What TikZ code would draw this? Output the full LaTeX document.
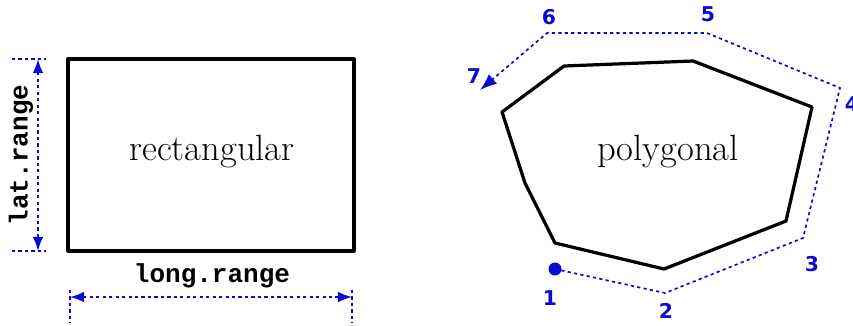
\documentclass[tikz,border=0pt]{standalone}
\usepackage{fontspec}
\setmonofont{Liberation Mono}
\newfontfamily\numfont{DejaVu Sans}
\usetikzlibrary{arrows.meta}
\definecolor{dimblue}{RGB}{10,10,210}

\begin{document}
\begin{tikzpicture}[x=0.025cm, y=-0.025cm,
            outline/.style={draw, line width=2.3pt, line join=round},
            dim/.style={draw=dimblue, line width=1.2pt, dash pattern=on 2.3pt off 2.3pt},
            dimarr/.style={dim, {Latex[length=10pt,width=7.5pt]}-{Latex[length=10pt,width=7.5pt]}},
            txt/.style={font=\fontsize{26}{30}\selectfont},
            rng/.style={text=black, font=\fontsize{18.5}{20}\selectfont\ttfamily\bfseries},
            num/.style={text=dimblue, font=\fontsize{14.5}{16}\selectfont\numfont\bfseries}
        ]
        \useasboundingbox (0,0) rectangle (853,325);
        % rectangular area
        \draw[outline] (68,59) rectangle (354,251);
        \node[txt] (rect) at (212,152) {rectangular};
        % lat.range
        \coordinate (la) at (12,59);  \coordinate (lb) at (46,59);
        \coordinate (lc) at (12,251); \coordinate (ld) at (46,251);
        \draw[dim] (la) -- (lb);
        \draw[dim] (lc) -- (ld);
        \coordinate (ltop) at (38,59);
        \coordinate (lbot) at (38,251);
        \draw[dimarr] (ltop) -- (lbot);
        \node[rng, rotate=90] (lat) at (21,155) {lat.range};
        % long.range
        \coordinate (ga) at (70,290);  \coordinate (gb) at (70,323);
        \coordinate (gc) at (352,290); \coordinate (gd) at (352,323);
        \draw[dim] (ga) -- (gb);
        \draw[dim] (gc) -- (gd);
        \coordinate (gl) at (70,297);
        \coordinate (gr) at (352,297);
        \draw[dimarr] (gl) -- (gr);
        \node[rng] (long) at (212,276) {long.range};
        % polygonal area
        \draw[outline] (502,112) -- (564,66) -- (693,61) -- (812,107) -- (786,221)
            -- (664,269) -- (555,243) -- (525,183) -- cycle;
        \node[txt] (poly) at (668,152) {polygonal};
        % vertices
        \coordinate (p1) at (555,269);
        \coordinate (p2) at (665,293);
        \coordinate (p3) at (803,238);
        \coordinate (p4) at (840,88);
        \coordinate (p5) at (707,33);
        \coordinate (p6) at (547,33);
        \coordinate (p7) at (480,90);
        \fill[dimblue] (p1) circle (6.5);
        \draw[dim, -{Latex[length=12pt,width=9pt]}] (p1) -- (p2) -- (p3) -- (p4) -- (p5) -- (p6) -- (p7);
        \node[num] (n1) at (550,298) {1};
        \node[num] (n2) at (666,311) {2};
        \node[num] (n3) at (812,264) {3};
        \node[num] (n4) at (852,104) {4};
        \node[num] (n5) at (708,14) {5};
        \node[num] (n6) at (549,17) {6};
        \node[num] (n7) at (474,76) {7};
    \end{tikzpicture}
\end{document}
